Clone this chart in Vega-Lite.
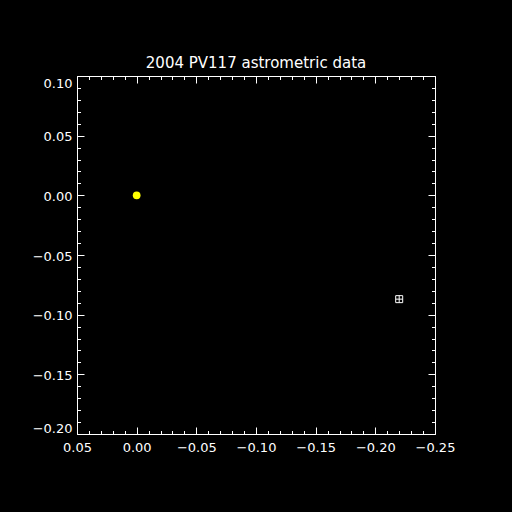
{
  "$schema": "https://vega.github.io/schema/vega-lite/v6.json",
  "width": 358,
  "height": 358,
  "autosize": "none",
  "padding": {"left": 77, "top": 76, "right": 77, "bottom": 78},
  "background": "black",
  "config": {
    "view": {"stroke": "white", "strokeWidth": 1},
    "axis": {"domainColor": "white", "tickColor": "white", "labelColor": "white", "grid": false, "labelFont": "DejaVu Sans", "labelFontSize": 13, "domainWidth": 1, "tickWidth": 1, "labelOverlap": false, "labelBound": false}
  },
  "title": {"text": "2004 PV117 astrometric data", "color": "white", "font": "DejaVu Sans", "fontSize": 15, "fontWeight": "normal", "offset": 5},
  "datasets": {
    "obs": [
      {"dx": 0.0, "dy": 0.0, "kind": "reference"},
      {"dx": -0.22, "dy": -0.087, "kind": "observed"}
    ]
  },
  "layer": [
    {
      "data": {"name": "obs"},
      "transform": [{"filter": "datum.kind == 'reference'"}],
      "mark": {"type": "point", "shape": "circle", "filled": true, "color": "yellow", "opacity": 1, "size": 60},
      "encoding": {
        "x": {"field": "dx", "type": "quantitative", "scale": {"domain": [-0.25, 0.05], "reverse": true, "nice": false, "zero": false},
          "axis": {"orient": "bottom", "title": null, "values": [-0.25,-0.24,-0.23,-0.22,-0.21,-0.2,-0.19,-0.18,-0.17,-0.16,-0.15,-0.14,-0.13,-0.12,-0.11,-0.1,-0.09,-0.08,-0.07,-0.06,-0.05,-0.04,-0.03,-0.02,-0.01,0,0.01,0.02,0.03,0.04,0.05], "format": ".2f",
            "labelExpr": "abs(round(datum.value*100)) % 5 == 0 ? datum.label : ''",
            "labelFlush": false,
            "tickSize": {"condition": {"test": "abs(round(datum.value*100)) % 5 == 0", "value": -7}, "value": -3.5},
            "labelPadding": 14}},
        "y": {"field": "dy", "type": "quantitative", "scale": {"domain": [-0.2, 0.1], "nice": false, "zero": false},
          "axis": {"orient": "left", "title": null, "values": [-0.2,-0.19,-0.18,-0.17,-0.16,-0.15,-0.14,-0.13,-0.12,-0.11,-0.1,-0.09,-0.08,-0.07,-0.06,-0.05,-0.04,-0.03,-0.02,-0.01,0,0.01,0.02,0.03,0.04,0.05,0.06,0.07,0.08,0.09,0.1], "format": ".2f",
            "labelExpr": "abs(round(datum.value*100)) % 5 == 0 ? datum.label : ''",
            "labelFlush": true,
            "labelOffset": 1,
            "tickSize": {"condition": {"test": "abs(round(datum.value*100)) % 5 == 0", "value": -7}, "value": -3.5},
            "labelPadding": 12}}
      }
    },
    {
      "data": {"name": "obs"},
      "transform": [{"filter": "datum.kind == 'observed'"}],
      "mark": {"type": "point", "shape": "M-1,-1H1V1H-1Z M0,-1V1 M-1,0H1", "filled": false, "color": "white", "opacity": 1, "size": 49, "strokeWidth": 1},
      "encoding": {
        "x": {"field": "dx", "type": "quantitative", "scale": {"domain": [-0.25, 0.05], "reverse": true, "nice": false, "zero": false},
          "axis": {"orient": "top", "title": null, "labels": false, "domain": false, "values": [-0.25,-0.24,-0.23,-0.22,-0.21,-0.2,-0.19,-0.18,-0.17,-0.16,-0.15,-0.14,-0.13,-0.12,-0.11,-0.1,-0.09,-0.08,-0.07,-0.06,-0.05,-0.04,-0.03,-0.02,-0.01,0,0.01,0.02,0.03,0.04,0.05],
            "tickSize": {"condition": {"test": "abs(round(datum.value*100)) % 5 == 0", "value": -7}, "value": -3.5}}},
        "y": {"field": "dy", "type": "quantitative", "scale": {"domain": [-0.2, 0.1], "nice": false, "zero": false},
          "axis": {"orient": "right", "title": null, "labels": false, "domain": false, "values": [-0.2,-0.19,-0.18,-0.17,-0.16,-0.15,-0.14,-0.13,-0.12,-0.11,-0.1,-0.09,-0.08,-0.07,-0.06,-0.05,-0.04,-0.03,-0.02,-0.01,0,0.01,0.02,0.03,0.04,0.05,0.06,0.07,0.08,0.09,0.1],
            "tickSize": {"condition": {"test": "abs(round(datum.value*100)) % 5 == 0", "value": -7}, "value": -3.5}}}
      }
    }
  ],
  "resolve": {"axis": {"x": "independent", "y": "independent"}}
}
